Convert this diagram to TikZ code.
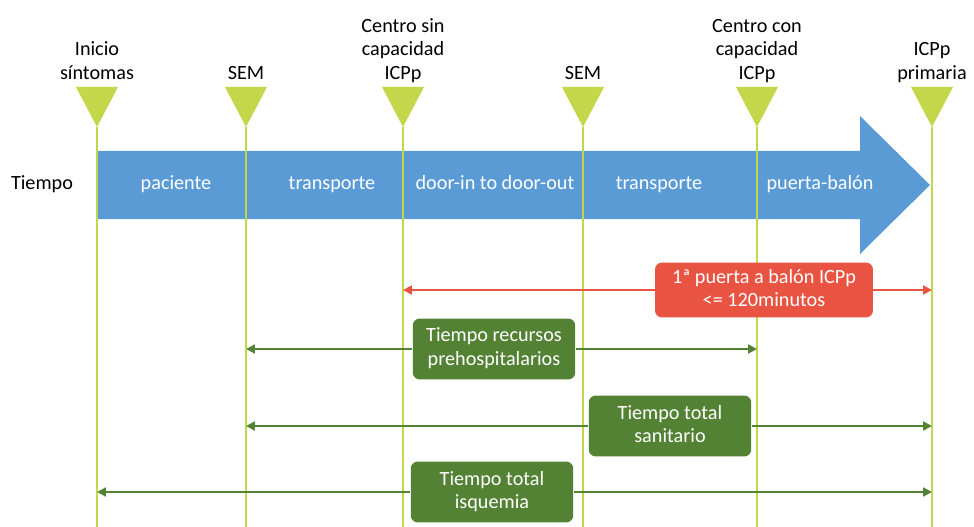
\documentclass[tikz,border=0pt]{standalone}
\usepackage{fontspec}
\setmainfont{Carlito}
\usetikzlibrary{arrows.meta}
\definecolor{barblue}{RGB}{91,155,213}
\definecolor{mslime}{RGB}{196,214,74}
\definecolor{boxgreen}{RGB}{84,130,53}
\definecolor{boxred}{RGB}{232,83,66}
\tikzset{
  milestone/.style={draw=mslime, line width=1.2pt},
  txt/.style={font=\fontsize{11.5}{13.4}\selectfont, align=center, inner sep=1pt, text depth=0.25em},
  bartxt/.style={txt, text=white},
  gbox/.style={txt, fill=boxgreen, text=white, rounded corners=4pt, minimum width=3.25cm, minimum height=1.22cm},
  rbox/.style={txt, fill=boxred, text=white, rounded corners=4pt, minimum width=4.36cm, minimum height=1.1cm},
  garrow/.style={draw=boxgreen, line width=1.2pt},
  rarrow/.style={draw=boxred, line width=1.2pt}
}
\begin{document}
\begin{tikzpicture}[x=0.02cm, y=-0.02cm]
\useasboundingbox (0,0) rectangle (974,527);
\coordinate (bot) at (0,527);
\coordinate (m1) at (97,127);
\coordinate (m2) at (246,127);
\coordinate (m3) at (403,127);
\coordinate (m4) at (583,127);
\coordinate (m5) at (757,127);
\coordinate (m6) at (932,127);

\fill[barblue] (97,151) -- (860,151) -- (860,116) -- (930,185) -- (860,254) -- (860,219) -- (97,219) -- cycle;
\node[txt] (tiempo) at (42,185) {Tiempo};
\node[bartxt] (pac) at (176,185) {paciente};
\node[bartxt] (tr1) at (332,185) {transporte};
\node[bartxt] (door) at (495,185) {door-in to door-out};
\node[bartxt] (tr2) at (659,185) {transporte};
\node[bartxt] (pb) at (820,185) {puerta-balón};

\draw[milestone] (m1) -- (m1 |- bot);
\draw[milestone] (m2) -- (m2 |- bot);
\draw[milestone] (m3) -- (m3 |- bot);
\draw[milestone] (m4) -- (m4 |- bot);
\draw[milestone] (m5) -- (m5 |- bot);
\draw[milestone] (m6) -- (m6 |- bot);
\fill[mslime] (m1) -- ++(-21,-40) -- ++(42,0) -- cycle;
\fill[mslime] (m2) -- ++(-21,-40) -- ++(42,0) -- cycle;
\fill[mslime] (m3) -- ++(-21,-40) -- ++(42,0) -- cycle;
\fill[mslime] (m4) -- ++(-21,-40) -- ++(42,0) -- cycle;
\fill[mslime] (m5) -- ++(-21,-40) -- ++(42,0) -- cycle;
\fill[mslime] (m6) -- ++(-21,-40) -- ++(42,0) -- cycle;

\node[txt, anchor=south] (inicio) at (97,86) {Inicio\\síntomas};
\node[txt, anchor=south] (sem1) at (246,86) {SEM};
\node[txt, anchor=south] (csin) at (403,86) {Centro sin\\capacidad\\ICPp};
\node[txt, anchor=south] (sem2) at (583,86) {SEM};
\node[txt, anchor=south] (ccon) at (757,86) {Centro con\\capacidad\\ICPp};
\node[txt, anchor=south] (icpp) at (932,86) {ICPp\\primaria};

\node[rbox] (puerta) at (764,290) {1ª puerta a balón ICPp\\<= 120minutos};
\node[gbox] (recursos) at (494,349) {Tiempo recursos\\prehospitalarios};
\node[gbox] (sanitario) at (670,426) {Tiempo total\\sanitario};
\node[gbox] (isquemia) at (492,492) {Tiempo total\\isquemia};

\draw[rarrow, {Triangle[length=5pt,width=5pt]}-] (m3 |- puerta) -- (puerta.west);
\draw[rarrow, -{Triangle[length=5pt,width=5pt]}] (puerta.east) -- (m6 |- puerta);
\draw[garrow, {Triangle[length=5pt,width=5pt]}-] (m2 |- recursos) -- (recursos.west);
\draw[garrow, -{Triangle[length=5pt,width=5pt]}] (recursos.east) -- (m5 |- recursos);
\draw[garrow, {Triangle[length=5pt,width=5pt]}-] (m2 |- sanitario) -- (sanitario.west);
\draw[garrow, -{Triangle[length=5pt,width=5pt]}] (sanitario.east) -- (m6 |- sanitario);
\draw[garrow, {Triangle[length=5pt,width=5pt]}-] (m1 |- isquemia) -- (isquemia.west);
\draw[garrow, -{Triangle[length=5pt,width=5pt]}] (isquemia.east) -- (m6 |- isquemia);
\end{tikzpicture}
\end{document}
